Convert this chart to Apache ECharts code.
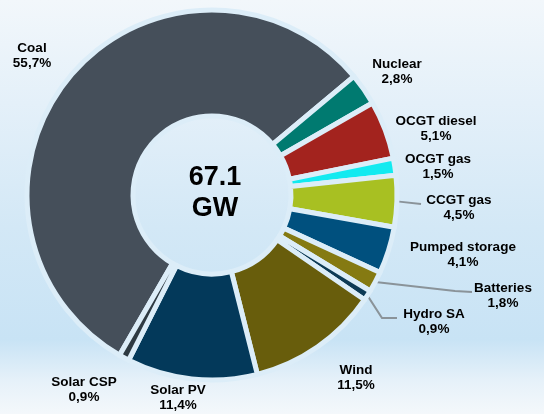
<!DOCTYPE html>
<html>
<head>
<meta charset="utf-8">
<script src="https://cdn.jsdelivr.net/npm/echarts@6/dist/echarts.min.js"></script>
<style>
    html, body { margin: 0; padding: 0; }
    body {
        background: linear-gradient(to bottom, #f2f7fb 0%, #e4f0f9 25%, #d3e8f6 55%, #c8e3f5 82%, #e6f1f9 92%, #f4f8fb 100%);
    }
    #main { width: 544px; height: 414px; }
</style>
</head>
<body>
<div id="main"></div>
<script>
'use strict';

// 装机容量构成 (总计 67.1 GW)
var names = ["Coal", "Nuclear", "OCGT diesel", "OCGT gas", "CCGT gas", "Pumped storage", "Batteries", "Hydro SA", "Wind", "Solar PV", "Solar CSP"];
var shares = [55.7, 2.8, 5.1, 1.5, 4.5, 4.1, 1.8, 0.9, 11.5, 11.4, 0.9];
var colors = ["#454f5a", "#007a70", "#a3231e", "#12eaf0", "#a8c022", "#00507e", "#857a12", "#0d3a55", "#685d0c", "#03395a", "#2e3a42"];
var total = "67.1";
var unit = "GW";

// 标签位置 (像素)
var labelPos = [[32, 56], [397, 72], [436, 129], [438, 167], [459, 208], [463, 255], [503, 296], [434, 322], [356, 378], [178, 398], [84, 390]];
// 有引线的标签: 折点
var guide = {
    "CCGT gas": [[421, 204]],
    "Batteries": [[455, 291], [472, 292]],
    "Hydro SA": [[382, 318], [397, 318]]
};

var myChart = echarts.init(document.getElementById('main'));

var data = names.map(function (n, i) {
    return {
        name: n,
        value: shares[i],
        itemStyle: { color: colors[i] },
        labelLine: { show: !!guide[n] }
    };
});

var option = {
    backgroundColor: 'transparent',
    animation: false,
    graphic: [{
        type: 'text',
        x: 215,
        y: 193,
        style: {
            text: total + '\n' + unit,
            align: 'center',
            verticalAlign: 'middle',
            fill: '#000',
            font: 'bold 27px "Liberation Sans", Arial, sans-serif',
            lineHeight: 31
        }
    }],
    series: [{
        type: 'pie',
        center: [212, 195],
        radius: [79, 185],
        startAngle: 240,
        clockwise: true,
        avoidLabelOverlap: false,
        itemStyle: {
            borderColor: '#dcedf8',
            borderWidth: 5
        },
        label: {
            show: true,
            position: 'outside',
            color: '#000',
            fontFamily: '"Liberation Sans", Arial, sans-serif',
            fontWeight: 'bold',
            fontSize: 13.5,
            lineHeight: 15,
            align: 'center',
            formatter: function (p) {
                return p.name + '\n' + String(p.value).replace('.', ',') + '%';
            }
        },
        labelLine: {
            lineStyle: { color: '#8a9399', width: 2 }
        },
        labelLayout: function (params) {
            var pos = labelPos[params.dataIndex];
            var res = { x: pos[0], y: pos[1], align: 'center', verticalAlign: 'middle' };
            var n = names[params.dataIndex];
            if (guide[n] && params.labelLinePoints) {
                res.labelLinePoints = [params.labelLinePoints[0]].concat(guide[n]);
            }
            return res;
        },
        data: data
    }]
};

myChart.setOption(option);
</script>
</body>
</html>
